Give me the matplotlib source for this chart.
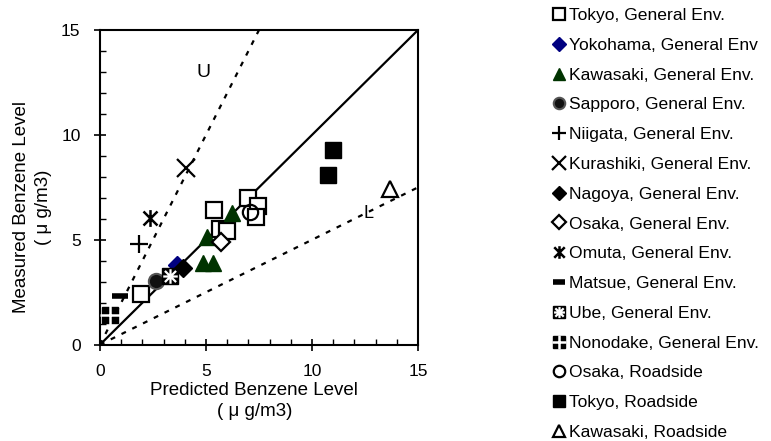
import numpy as np
import matplotlib
matplotlib.use("Agg")
import matplotlib.pyplot as plt
from matplotlib.path import Path
from matplotlib.legend_handler import HandlerTuple
from matplotlib.ticker import MultipleLocator

plt.rcParams["font.family"] = ["Liberation Sans", "DejaVu Sans"]

# measured vs predicted benzene, ug/m3
tokyo_ge_x = [1.93, 5.38, 5.66, 5.99, 6.98, 7.45, 7.36]
tokyo_ge_y = [2.40, 6.42, 5.51, 5.42, 6.99, 6.61, 6.09]
yokohama_x = [3.63]
yokohama_y = [3.80]
kawasaki_ge_x = [5.05, 4.86, 5.33, 6.23]
kawasaki_ge_y = [5.13, 3.89, 3.89, 6.27]
sapporo_x = [2.64]
sapporo_y = [3.03]
niigata_x = [1.84]
niigata_y = [4.80]
kurashiki_x = [4.06]
kurashiki_y = [8.42]
nagoya_x = [3.92]
nagoya_y = [3.66]
osaka_ge_x = [5.71]
osaka_ge_y = [4.90]
omuta_x = [2.36]
omuta_y = [6.04]
matsue_x = [0.93]
matsue_y = [2.32]
ube_x = [3.30]
ube_y = [3.27]
nonodake_x = [0.47]
nonodake_y = [1.41]
osaka_rs_x = [7.08]
osaka_rs_y = [6.33]
tokyo_rs_x = [10.75, 11.00]
tokyo_rs_y = [8.09, 9.28]
kawasaki_rs_x = [13.70]
kawasaki_rs_y = [7.42]

ref_slopes = [1.0, 2.0, 0.5]
axis_max = 15

star_path = Path(
    [(-1, -1), (1, 1), (-1, 1), (1, -1), (0, -1.2), (0, 1.2)],
    [Path.MOVETO, Path.LINETO, Path.MOVETO, Path.LINETO, Path.MOVETO, Path.LINETO],
)
ube_path = Path(
    [(-1, -1), (1, 1), (-1, 1), (1, -1), (0, -1.3), (0, 1.3), (-1.3, 0), (1.3, 0)],
    [Path.MOVETO, Path.LINETO] * 4,
)

fig = plt.figure(figsize=(7.71, 4.41), dpi=100)
ax = fig.add_axes([0.1297, 0.2184, 0.4125, 0.7136])

# reference lines: 1:1, upper (x2) and lower (x0.5)
xx = np.linspace(0, axis_max, 200)
ax.plot(xx, ref_slopes[0] * xx, color="black", lw=1.6, zorder=1)
ax.plot(xx, ref_slopes[1] * xx, color="black", lw=1.6, ls=(0, (2.2, 3.2)), zorder=1)
ax.plot(xx, ref_slopes[2] * xx, color="black", lw=1.6, ls=(0, (2.2, 3.2)), zorder=1)
ax.text(4.86, 12.95, "U", fontsize=14, ha="center", va="center")
ax.text(12.65, 6.27, "L", fontsize=13, ha="center", va="center")

ms = 11
handles = []
h = ax.plot(tokyo_ge_x, tokyo_ge_y, "s", ms=ms, mfc="white", mec="black", mew=1.6, ls="none", zorder=3)[0]
handles.append(h)
h = ax.plot(yokohama_x, yokohama_y, "D", ms=ms * 0.85, color="#000080", ls="none", zorder=3)[0]
handles.append(h)
h = ax.plot(kawasaki_ge_x, kawasaki_ge_y, "^", ms=ms, color="#003300", ls="none", zorder=3)[0]
handles.append(h)
h = ax.plot(sapporo_x, sapporo_y, "o", ms=ms, mfc="#111111", mec="#555555", mew=1.5, ls="none", zorder=3)[0]
handles.append(h)
h = ax.plot(niigata_x, niigata_y, "+", ms=ms * 1.2, color="black", mew=1.6, ls="none", zorder=3)[0]
handles.append(h)
h = ax.plot(kurashiki_x, kurashiki_y, "x", ms=ms * 1.2, color="black", mew=1.6, ls="none", zorder=3)[0]
handles.append(h)
h = ax.plot(nagoya_x, nagoya_y, "D", ms=ms * 0.85, color="black", ls="none", zorder=3)[0]
handles.append(h)
h = ax.plot(osaka_ge_x, osaka_ge_y, "D", ms=ms * 0.85, mfc="white", mec="black", mew=1.6, ls="none", zorder=3)[0]
handles.append(h)
h = ax.plot(omuta_x, omuta_y, marker=star_path, ms=ms * 1.1, color="black", mew=1.8, ls="none", zorder=3)[0]
handles.append(h)
h = ax.plot(matsue_x, matsue_y, "_", ms=ms, color="black", mew=4, ls="none", zorder=3)[0]
handles.append(h)
h1 = ax.plot(ube_x, ube_y, "s", ms=ms, color="black", ls="none", zorder=3)[0]
h2 = ax.plot(ube_x, ube_y, marker=ube_path, ms=ms * 0.95, color="white", mew=1.6, ls="none", zorder=4)[0]
handles.append((h1, h2))
h1 = ax.plot(nonodake_x, nonodake_y, "s", ms=ms * 1.1, color="black", ls="none", zorder=3)[0]
h2 = ax.plot(nonodake_x, nonodake_y, "+", ms=ms * 1.3, color="white", mew=1.8, ls="none", zorder=4)[0]
handles.append((h1, h2))
h = ax.plot(osaka_rs_x, osaka_rs_y, "o", ms=ms, mfc="none", mec="black", mew=1.6, ls="none", zorder=3)[0]
handles.append(h)
h = ax.plot(tokyo_rs_x, tokyo_rs_y, "s", ms=ms, color="black", ls="none", zorder=3)[0]
handles.append(h)
h = ax.plot(kawasaki_rs_x, kawasaki_rs_y, "^", ms=ms, mfc="white", mec="black", mew=1.6, ls="none", zorder=3)[0]
handles.append(h)

labels = [
    "Tokyo, General Env.",
    "Yokohama, General Env",
    "Kawasaki, General Env.",
    "Sapporo, General Env.",
    "Niigata, General Env.",
    "Kurashiki, General Env.",
    "Nagoya, General Env.",
    "Osaka, General Env.",
    "Omuta, General Env.",
    "Matsue, General Env.",
    "Ube, General Env.",
    "Nonodake, General Env.",
    "Osaka, Roadside",
    "Tokyo, Roadside",
    "Kawasaki, Roadside",
]

fig.legend(
    handles, labels,
    loc="upper left", bbox_to_anchor=(0.712, 0.99),
    frameon=False, fontsize=12.6, markerscale=0.75,
    handlelength=0.75, handletextpad=0.2, labelspacing=0.83,
    borderaxespad=0, borderpad=0.2,
    handler_map={tuple: HandlerTuple(ndivide=1)},
)

ax.set_xlim(0, axis_max)
ax.set_ylim(0, axis_max)
ax.xaxis.set_major_locator(MultipleLocator(5))
ax.yaxis.set_major_locator(MultipleLocator(5))
ax.xaxis.set_minor_locator(MultipleLocator(1))
ax.yaxis.set_minor_locator(MultipleLocator(1))
ax.tick_params(which="major", direction="inout", length=8, width=1.2, labelsize=12.5, pad=10)
ax.tick_params(which="minor", direction="in", length=4, width=1.0)
for sp in ax.spines.values():
    sp.set_linewidth(1.5)

ax.set_xlabel("Predicted Benzene Level\n( μ g/m3)", fontsize=13.5, linespacing=1.35)
ax.set_ylabel("Measured Benzene Level\n( μ g/m3)", fontsize=13.5, linespacing=1.4)
ax.xaxis.set_label_coords(0.485, -0.118)
ax.yaxis.set_label_coords(-0.150, 0.4375)

fig.savefig("out.png", dpi=100)
